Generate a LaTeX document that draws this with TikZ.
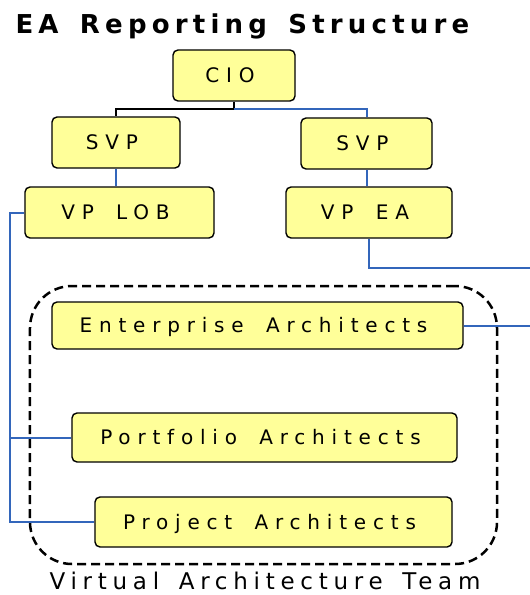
\documentclass[tikz,border=0pt]{standalone}
\usepackage{fontspec}
\newfontfamily\boxfont[LetterSpace=34,WordSpace=1.7]{DejaVu Sans}
\newfontfamily\headfont[LetterSpace=20,WordSpace=1.5]{DejaVu Sans}
\newfontfamily\teamfont[LetterSpace=25,WordSpace=1.5]{DejaVu Sans}
\definecolor{boxyellow}{RGB}{255,255,153}
\definecolor{railblue}{RGB}{51,102,187}
\tikzset{
  orgbox/.style={draw=black,line width=1.4bp,fill=boxyellow,rounded corners=5bp,
    inner sep=0pt,minimum height=51bp,text height=14.5bp,text depth=0pt,
    font=\boxfont\fontsize{20bp}{24bp}\selectfont,
    execute at begin node=\hspace*{-8bp}},
  blueline/.style={draw=railblue,line width=2bp},
  blackline/.style={draw=black,line width=2bp},
  teamline/.style={draw=black,line width=2.5bp,dash pattern=on 9bp off 5bp,rounded corners=42bp}
}
\begin{document}
\begin{tikzpicture}[x=1bp,y=-1bp]
  \useasboundingbox (0,0) rectangle (530,595);
  \node[anchor=base west,font=\headfont\bfseries\fontsize{26bp}{30bp}\selectfont] (title) at (12,34) {EA Reporting Structure};
  \node[teamline,minimum width=467bp,minimum height=278bp] (team) at (263.5,425) {};
  \node[anchor=base,font=\teamfont\fontsize{23bp}{27bp}\selectfont] (teamlabel) at (265,589) {Virtual Architecture Team};
  \node[orgbox,minimum width=122bp] (cio) at (234,75.5) {CIO};
  \node[orgbox,minimum width=128bp] (svpl) at (116,142.5) {SVP};
  \node[orgbox,minimum width=131bp] (svpr) at (366.5,143.5) {SVP};
  \node[orgbox,minimum width=189bp] (vplob) at (119.5,212.5) {VP LOB};
  \node[orgbox,minimum width=166bp] (vpea) at (369,212.5) {VP EA};
  \node[orgbox,minimum width=411bp,minimum height=47bp] (ent) at (257.5,325.5) {Enterprise Architects};
  \node[orgbox,minimum width=385bp,minimum height=49bp] (port) at (264.5,437.5) {Portfolio Architects};
  \node[orgbox,minimum width=357bp,minimum height=50bp] (proj) at (273.5,522) {Project Architects};
  \coordinate (eaout) at (530,268);
  \coordinate (entout) at (530,324);
  \coordinate (rail) at (10,522);
  \draw[blackline] (cio.south) -- ++(0,7) -| (svpl.north);
  \draw[blueline] (cio.south) ++(0,7) -| (svpr.north);
  \draw[blueline] (svpl.south) -- (svpl.south |- vplob.north);
  \draw[blueline] (svpr.south) -- (svpr.south |- vpea.north);
  \draw[blueline] (vpea.south) |- (eaout);
  \draw[blueline] (ent.east) -- (ent.east -| entout);
  \draw[blueline] (vplob.west) -| (rail) -- (proj.west);
  \draw[blueline] (port.west) -- (port.west -| rail);
\end{tikzpicture}
\end{document}
